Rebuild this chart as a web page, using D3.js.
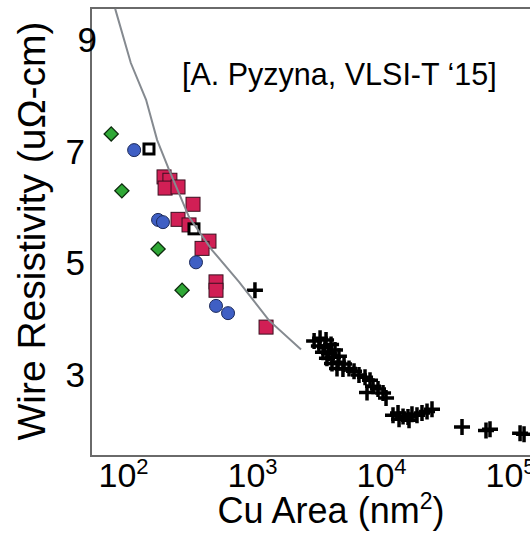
<!DOCTYPE html>
<html>
<head>
<meta charset="utf-8">
<script src="https://cdn.jsdelivr.net/npm/d3@7"></script>
<style>
  body { margin: 0; background: #fff; }
  text { font-family: "Liberation Sans", Arial, sans-serif; fill: #000; }
</style>
</head>
<body>
<script>

// Cu area (nm^2) and wire resistivity (uOhm-cm)
const modelArea = [87, 115, 151, 184, 228, 325, 490, 793, 1355, 2400]
const modelRho  = [9.54, 8.57, 7.91, 7.19, 6.65, 5.81, 5.22, 4.65, 3.96, 3.44]

const diamondArea = [81, 98, 187, 287]
const diamondRho  = [7.30, 6.28, 5.24, 4.50]

const circleArea = [122, 187, 204, 368, 526, 652]
const circleRho  = [7.01, 5.76, 5.72, 5.00, 4.22, 4.09]

const openArea = [159, 355]
const openRho  = [7.03, 5.60]

const redArea = [208, 231, 212, 267, 349, 267, 325, 464, 410, 526, 526, 1285]
const redRho  = [6.53, 6.47, 6.33, 6.35, 6.04, 5.77, 5.67, 5.38, 5.25, 4.65, 4.50, 3.84]

const crossArea = [1054,
  3030, 3370, 3750, 3300, 3680, 4100, 3550, 3950, 4400, 3810, 4250, 4720, 4170, 4650, 5170, 4560, 5070, 5650,
  6180, 6750, 7520, 8220, 8670, 9480, 7790, 10370, 10940,
  12390, 13550, 14820, 16190, 17380, 19010, 20790, 22740, 24850, 13800, 16490,
  42460, 65160, 69980, 119700, 128500]
const crossRho = [4.50,
  3.59, 3.64, 3.61, 3.50, 3.48, 3.53, 3.39, 3.37, 3.43, 3.28, 3.30, 3.32, 3.19, 3.21, 3.18, 3.10, 3.09, 3.10,
  3.05, 2.98, 2.94, 2.89, 2.78, 2.73, 2.67, 2.66, 2.57,
  2.26, 2.30, 2.24, 2.23, 2.28, 2.26, 2.30, 2.33, 2.37, 2.19, 2.17,
  2.05, 1.99, 2.01, 1.94, 1.92]

const xTicks = [100, 1000, 10000, 100000]
const xTickExp = ['2', '3', '4', '5']
const yTicks = [3, 5, 7, 9]

const w = 530
const h = 533
const frameLeft = 91
const frameTop = 8
const frameBottom = 456

const zip = (a, b) => a.map((d, i) => [d, b[i]])

const xScale = d3.scaleLog()
                 .domain([100, 100000])
                 .range([123, 510])
const yScale = d3.scaleLinear()
                 .domain([3, 9])
                 .range([374, 39])

const svg = d3.select("body")
  .append("svg")
  .attr("width", w)
  .attr("height", h)

// frame (no right border in the original)
svg.append("path")
  .attr("d", `M${w},${frameTop}H${frameLeft}V${frameBottom}H${w}`)
  .attr("fill", "none")
  .attr("stroke", "#6a6a6a")
  .attr("stroke-width", 2)

// axes
const yAxis = svg.append("g")
  .attr("transform", `translate(${frameLeft}, 0)`)
  .call(d3.axisLeft(yScale).tickValues(yTicks).tickSize(0).tickPadding(6).tickFormat(d3.format("d")))
yAxis.select(".domain").remove()
yAxis.selectAll("text")
  .style("font-size", "35px")
  .attr("dy", "0.36em")
  .attr("dx", (d) => d === 9 ? 12 : 0)

const xAxis = svg.append("g")
  .attr("transform", `translate(0, ${frameBottom})`)
  .call(d3.axisBottom(xScale).tickValues(xTicks).tickSize(0))
xAxis.select(".domain").remove()
xAxis.selectAll("text")
  .style("font-size", "34px")
  .attr("y", 31)
  .attr("dy", 0)
  .text("")
  .each(function(d, i) {
    const t = d3.select(this)
    t.append("tspan").text("10")
    t.append("tspan").attr("dy", -13).style("font-size", "22px").text(xTickExp[i])
  })

// axis titles
svg.append("text")
  .attr("text-anchor", "middle")
  .attr("transform", "translate(45, 231) rotate(-90)")
  .style("font-size", "39px")
  .text("Wire Resistivity (uΩ-cm)")

const xTitle = svg.append("text")
  .attr("text-anchor", "middle")
  .attr("x", 331)
  .attr("y", 523)
  .style("font-size", "36px")
xTitle.append("tspan").text("Cu Area (nm")
xTitle.append("tspan").attr("dy", -14).style("font-size", "23px").text("2")
xTitle.append("tspan").attr("dy", 14).text(")")

svg.append("text")
  .attr("x", 182)
  .attr("y", 85)
  .style("font-size", "30.5px")
  .text("[A. Pyzyna, VLSI-T ‘15]")

// markers
svg.selectAll(".red")
  .data(zip(redArea, redRho))
  .enter()
  .append("rect")
  .attr("class", "red")
  .attr("x", (d) => xScale(d[0]) - 7)
  .attr("y", (d) => yScale(d[1]) - 7)
  .attr("width", 14)
  .attr("height", 14)
  .attr("fill", "#d11f55")
  .attr("stroke", "#3a1020")
  .attr("stroke-width", 1)

svg.selectAll(".blue")
  .data(zip(circleArea, circleRho))
  .enter()
  .append("circle")
  .attr("class", "blue")
  .attr("cx", (d) => xScale(d[0]))
  .attr("cy", (d) => yScale(d[1]))
  .attr("r", 6.5)
  .attr("fill", "#3f5fc4")
  .attr("stroke", "#1c2a5a")
  .attr("stroke-width", 1)

svg.selectAll(".open")
  .data(zip(openArea, openRho))
  .enter()
  .append("rect")
  .attr("class", "open")
  .attr("x", (d) => xScale(d[0]) - 5)
  .attr("y", (d) => yScale(d[1]) - 5)
  .attr("width", 10)
  .attr("height", 10)
  .attr("fill", "#fff")
  .attr("stroke", "#000")
  .attr("stroke-width", 3)

svg.selectAll(".green")
  .data(zip(diamondArea, diamondRho))
  .enter()
  .append("rect")
  .attr("class", "green")
  .attr("x", -5)
  .attr("y", -5)
  .attr("width", 10)
  .attr("height", 10)
  .attr("transform", (d) => `translate(${xScale(d[0])}, ${yScale(d[1])}) rotate(45)`)
  .attr("fill", "#2fa836")
  .attr("stroke", "#0d2a0d")
  .attr("stroke-width", 1.3)

svg.selectAll(".cross")
  .data(zip(crossArea, crossRho))
  .enter()
  .append("path")
  .attr("class", "cross")
  .attr("d", "M-8,0H8M0,-8V8")
  .attr("transform", (d) => `translate(${xScale(d[0])}, ${yScale(d[1])})`)
  .attr("stroke", "#000")
  .attr("stroke-width", 3.5)

// model curve
const line = d3.line()
  .x((d) => xScale(d[0]))
  .y((d) => yScale(d[1]))

svg.append("path")
  .datum(zip(modelArea, modelRho))
  .attr("d", line)
  .attr("fill", "none")
  .attr("stroke", "#858a90")
  .attr("stroke-width", 2)

</script>
</body>
</html>
